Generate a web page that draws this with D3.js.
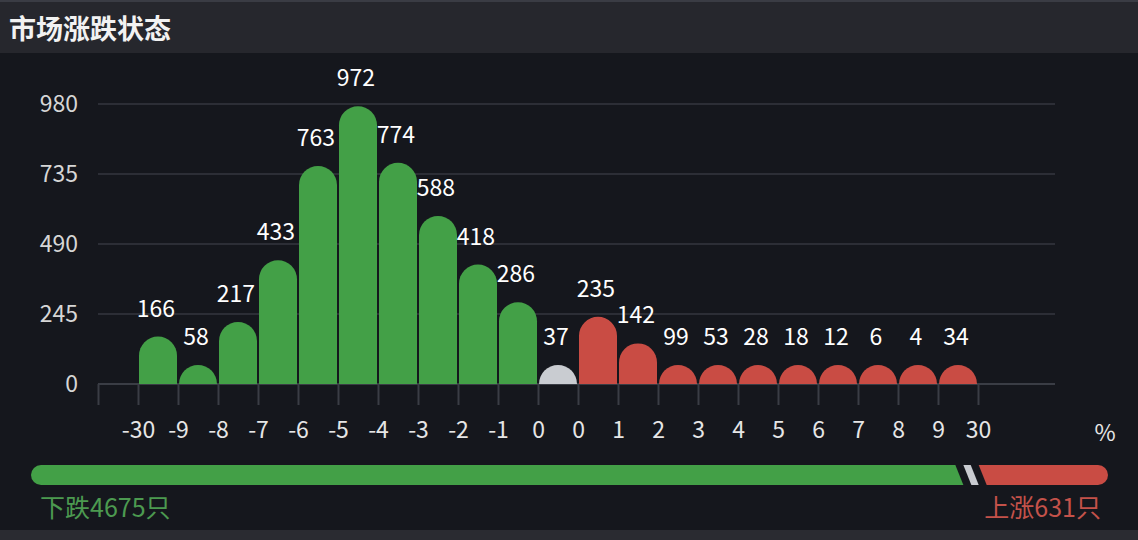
<!DOCTYPE html>
<html>
<head>
<meta charset="utf-8">
<script src="https://cdn.jsdelivr.net/npm/d3@7"></script>
<style>
    body { margin: 0; background: #15171d; overflow: hidden; }
    text { font-family: "Noto Sans CJK SC", "Noto Sans", sans-serif; }
</style>
</head>
<body>
<div id="chart"></div>
<script>

var title = "市场涨跌状态";

// boundaries of the change bins (in %), one label per tick
var edgeLabels = ["-30","-9","-8","-7","-6","-5","-4","-3","-2","-1","0","0","1","2","3","4","5","6","7","8","9","30"];

// number of stocks in each bin, between two boundaries
var counts = [166, 58, 217, 433, 763, 972, 774, 588, 418, 286, 37, 235, 142, 99, 53, 28, 18, 12, 6, 4, 34];
var groups = ["down","down","down","down","down","down","down","down","down","down",
              "flat",
              "up","up","up","up","up","up","up","up","up","up"];

var yTicks = [0, 245, 490, 735, 980];

var downTotal = 4675;
var flatTotal = 37;
var upTotal = 631;

var width = 1138;
var height = 540;

var colors = { down: "#43a047", flat: "#c9ccd1", up: "#c94c44" };

var svg = d3.select("#chart")
    .append("svg")
    .attr("width", width)
    .attr("height", height);

svg.append("rect")
    .attr("width", width)
    .attr("height", height)
    .attr("fill", "#15171d");

// header strip
svg.append("rect")
    .attr("width", width)
    .attr("height", 53)
    .attr("fill", "#26272d");
svg.append("rect")
    .attr("width", width)
    .attr("height", 2)
    .attr("fill", "#3a3c44");

svg.append("text")
    .attr("x", 9)
    .attr("y", 30)
    .attr("dy", "0.35em")
    .attr("fill", "#f2f2f2")
    .attr("font-size", 27)
    .attr("font-weight", 700)
    .text(title);

// bottom strip
svg.append("rect")
    .attr("y", 530)
    .attr("width", width)
    .attr("height", 10)
    .attr("fill", "#2a2b31");

// scales: bins sit between boundary ticks, first band left empty
var x = d3.scaleLinear()
    .domain([-1, edgeLabels.length - 1])
    .range([98, 978]);

var y = d3.scaleLinear()
    .domain([0, 980])
    .range([384, 104]);

var gridRight = 1055;

svg.selectAll(".grid")
    .data(yTicks)
    .enter()
    .append("line")
        .attr("class", "grid")
        .attr("x1", x(-1))
        .attr("x2", gridRight)
        .attr("y1", function(d) { return y(d); })
        .attr("y2", function(d) { return y(d); })
        .attr("stroke", function(d) { return d == 0 ? "#3a3d45" : "#2c2e36"; })
        .attr("stroke-width", 2);

var yAxis = svg.append("g")
    .attr("transform", "translate(78,0)")
    .call(d3.axisLeft(y).tickValues(yTicks).tickSize(0).tickPadding(0));
yAxis.select(".domain").remove();
yAxis.selectAll("text")
    .attr("fill", "#d6d6d6")
    .attr("font-size", 23)
    .attr("font-family", "\"Noto Sans CJK SC\", \"Noto Sans\", sans-serif");

var xAxis = svg.append("g")
    .attr("transform", "translate(0," + y(0) + ")")
    .call(d3.axisBottom(x)
        .tickValues(d3.range(-1, edgeLabels.length))
        .tickFormat(function(i) { return i < 0 ? "" : edgeLabels[i]; })
        .tickSize(21)
        .tickPadding(17));
xAxis.select(".domain").remove();
xAxis.selectAll("line")
    .attr("stroke", "#3a3d45")
    .attr("stroke-width", 2);
xAxis.selectAll("text")
    .attr("fill", "#e6e6e6")
    .attr("font-size", 23)
    .attr("font-family", "\"Noto Sans CJK SC\", \"Noto Sans\", sans-serif");

svg.append("text")
    .attr("x", 1105)
    .attr("y", 433)
    .attr("dy", "0.35em")
    .attr("text-anchor", "middle")
    .attr("fill", "#e6e6e6")
    .attr("font-size", 23)
    .text("%");

// bars with rounded tops; small counts are drawn as a half-round stub
var stubBelow = 100;

function barTop(d, i) {
    var w = x(i + 1) - x(i) - 2;
    var r = w / 2;
    var top = y(d);
    if (d < stubBelow || y(0) - top < r) top = y(0) - r;
    return top;
}

function barPath(d, i) {
    var x0 = x(i) + 1;
    var w = x(i + 1) - x(i) - 2;
    var r = w / 2;
    var top = barTop(d, i);
    return "M" + x0 + "," + y(0) +
        "V" + (top + r) +
        "A" + r + "," + r + " 0 0 1 " + (x0 + w) + "," + (top + r) +
        "V" + y(0) + "Z";
}

svg.selectAll(".bar")
    .data(counts)
    .enter()
    .append("path")
        .attr("class", "bar")
        .attr("d", barPath)
        .attr("fill", function(d, i) { return colors[groups[i]]; });

svg.selectAll(".value")
    .data(counts)
    .enter()
    .append("text")
        .attr("class", "value")
        .attr("x", function(d, i) { return (x(i) + x(i + 1)) / 2 - 2; })
        .attr("y", function(d, i) { return barTop(d, i) - 28; })
        .attr("dy", "0.35em")
        .attr("text-anchor", "middle")
        .attr("fill", "#ffffff")
        .attr("font-size", 23)
        .text(function(d) { return d; });

// ratio bar at the bottom
var ratio = [
    { key: "down", value: downTotal },
    { key: "flat", value: flatTotal },
    { key: "up", value: upTotal }
];

var barLeft = 31, barRight = 1108, barY = 465, barH = 20, gap = 8, slant = 8, rr = barH / 2;

var total = d3.sum(ratio, function(d) { return d.value; });
var wScale = d3.scaleLinear()
    .domain([0, total])
    .range([0, barRight - barLeft - gap * (ratio.length - 1)]);

var pos = barLeft;
ratio.forEach(function(d, i) {
    d.x0 = pos;
    d.x1 = pos + wScale(d.value);
    pos = d.x1 + gap;
});

function ratioPath(d, i) {
    var b = barY + barH;
    var p;
    if (i == 0) {
        p = "M" + (d.x0 + rr) + "," + barY +
            "L" + (d.x1 - slant / 2) + "," + barY +
            "L" + (d.x1 + slant / 2) + "," + b +
            "L" + (d.x0 + rr) + "," + b +
            "A" + rr + "," + rr + " 0 0 1 " + (d.x0 + rr) + "," + barY + "Z";
    } else if (i == ratio.length - 1) {
        p = "M" + (d.x0 - slant / 2) + "," + barY +
            "L" + (d.x1 - rr) + "," + barY +
            "A" + rr + "," + rr + " 0 0 1 " + (d.x1 - rr) + "," + b +
            "L" + (d.x0 + slant / 2) + "," + b + "Z";
    } else {
        p = "M" + (d.x0 - slant / 2) + "," + barY +
            "L" + (d.x1 - slant / 2) + "," + barY +
            "L" + (d.x1 + slant / 2) + "," + b +
            "L" + (d.x0 + slant / 2) + "," + b + "Z";
    }
    return p;
}

svg.selectAll(".ratio")
    .data(ratio)
    .enter()
    .append("path")
        .attr("class", "ratio")
        .attr("d", ratioPath)
        .attr("fill", function(d) { return colors[d.key]; });

svg.append("text")
    .attr("x", 40)
    .attr("y", 508)
    .attr("dy", "0.35em")
    .attr("fill", "#4c9a50")
    .attr("font-size", 25)
    .text("下跌" + downTotal + "只");

svg.append("text")
    .attr("x", 1101)
    .attr("y", 508)
    .attr("dy", "0.35em")
    .attr("text-anchor", "end")
    .attr("fill", "#c4524a")
    .attr("font-size", 25)
    .text("上涨" + upTotal + "只");

</script>
</body>
</html>
